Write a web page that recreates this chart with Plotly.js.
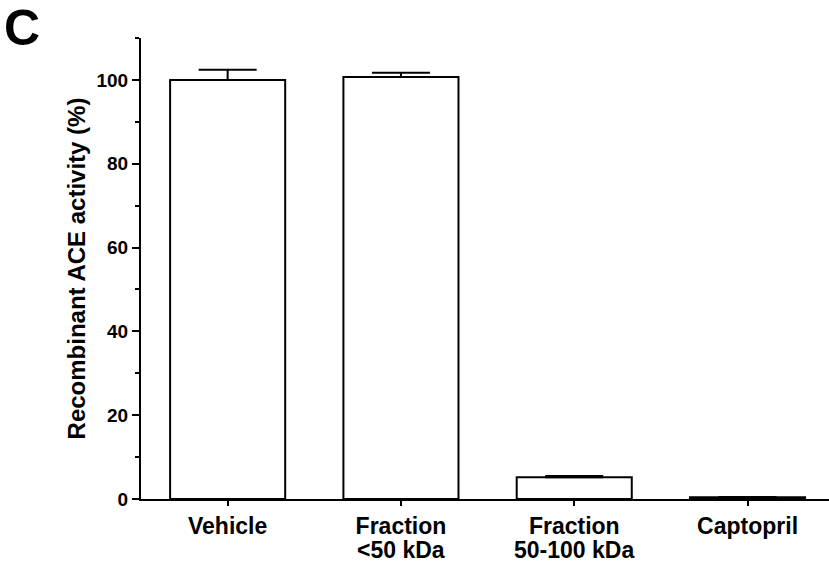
<!DOCTYPE html>
<html>
<head>
<meta charset="utf-8">
<script src="https://cdn.plot.ly/plotly-3.0.1.min.js"></script>
<style>html,body{margin:0;padding:0;background:#fff;}#chart{width:829px;height:567px;}</style>
</head>
<body>
<div id="chart"></div>
<script>
const categoriesLine1 = ["Vehicle", "Fraction", "Fraction", "Captopril"];
const categoriesLine2 = ["", "<50 kDa", "50-100 kDa", ""];
const values = [100, 100.7, 5.2, 0.4];
const errorsUp = [2.4, 1.0, 0.3, 0.1];
const yTickVals = [0, 20, 40, 60, 80, 100];

const fam = "Liberation Sans, Arial, sans-serif";
const tickFontY = {family: fam, size: 19, color: "#000", weight: "bold"};
const tickFontX = {family: fam, size: 23, color: "#000", weight: "bold"};
const titleFont = {family: fam, size: 24, color: "#000", weight: "bold"};

const xIdx = categoriesLine1.map((_, i) => i);

const trace = {
  type: "bar",
  x: xIdx,
  y: values,
  width: 0.664,
  marker: {color: "#fff", line: {color: "#000", width: 2}},
  error_y: {type: "data", array: errorsUp, arrayminus: values.map(() => 0), symmetric: false,
            color: "#000", thickness: 2, width: 29},
  hoverinfo: "none"
};

const annotations = [{
  text: "C", xref: "paper", yref: "paper", x: -141/688, y: 1 + 38/461, xanchor: "left", yanchor: "top",
  xshift: 2, yshift: 2, showarrow: false,
  font: {family: fam, size: 50, color: "#000", weight: "bold"}
}];
categoriesLine2.forEach((t, i) => {
  if (!t) return;
  annotations.push({
    text: t.replace("<", "&lt;"), xref: "x", yref: "paper", x: i, y: 0, xanchor: "center", yanchor: "middle",
    yshift: -51, showarrow: false, font: tickFontX
  });
});

const layout = {
  width: 829, height: 567,
  margin: {l: 141, r: 0, t: 38, b: 68},
  paper_bgcolor: "#fff", plot_bgcolor: "#fff",
  showlegend: false,
  font: tickFontY,
  xaxis: {
    range: [-0.5, 3.47], tickvals: xIdx, ticktext: categoriesLine1,
    showline: true, linecolor: "#000", linewidth: 2, ticks: "outside", ticklen: 5, tickwidth: 2,
    tickcolor: "#000", showgrid: false, zeroline: false, tickfont: tickFontX, fixedrange: true
  },
  yaxis: {
    range: [0, 110], tickvals: yTickVals, ticktext: yTickVals.map(String),
    showline: true, linecolor: "#000", linewidth: 2, ticks: "outside", ticklen: 7, tickwidth: 2,
    tickcolor: "#000", showgrid: false, zeroline: false, tickfont: tickFontY,
    minor: {tickvals: [10, 30, 50, 70, 90, 110], ticks: "outside", ticklen: 4, tickwidth: 2, tickcolor: "#000", showgrid: false},
    title: {text: "Recombinant ACE activity (%)", font: titleFont, standoff: 4}
  },
  annotations: annotations
};

Plotly.newPlot("chart", [trace], layout, {displayModeBar: false, staticPlot: true});
</script>
</body>
</html>
